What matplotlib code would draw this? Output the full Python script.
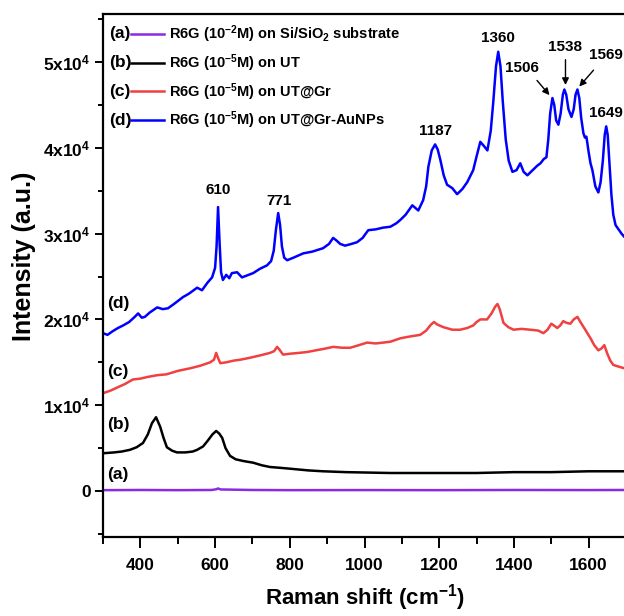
import matplotlib
matplotlib.use("Agg")
import numpy as np
import matplotlib.pyplot as plt
from matplotlib.legend_handler import HandlerBase
from matplotlib.lines import Line2D
from matplotlib.text import Text
from matplotlib.ticker import MultipleLocator, FixedLocator, FixedFormatter

plt.rcParams['font.family'] = ['Liberation Sans', 'DejaVu Sans']
plt.rcParams['font.weight'] = 'bold'
plt.rcParams['mathtext.fontset'] = 'custom'
plt.rcParams['mathtext.rm'] = 'Liberation Sans:bold'
plt.rcParams['mathtext.bf'] = 'Liberation Sans:bold'
plt.rcParams['mathtext.it'] = 'Liberation Sans:bold'
plt.rcParams['mathtext.default'] = 'bf'

# spectrum (d): R6G 1e-5 M on UT@Gr-AuNPs  (intensity in 1e4 counts)
x_d = [300, 312, 325, 340, 354, 370, 385, 394, 404, 412, 425, 445, 460, 474, 490, 514, 530, 552, 565, 580,
       592, 600, 604, 608, 612, 616, 621, 630, 638, 645, 659, 672, 690, 702, 720, 739, 750, 757, 763, 769,
       774, 779, 785, 793, 810, 836, 860, 889, 905, 916, 925, 935, 948, 965, 980, 995, 1010, 1030, 1050, 1069,
       1085, 1096, 1110, 1128, 1144, 1157, 1165, 1171, 1180, 1189, 1196, 1203, 1212, 1221, 1235, 1248, 1262, 1275, 1291, 1300,
       1310, 1320, 1329, 1338, 1345, 1352, 1358, 1364, 1370, 1378, 1386, 1396, 1407, 1417, 1426, 1436, 1450, 1462, 1471, 1480,
       1487, 1492, 1497, 1503, 1508, 1513, 1519, 1525, 1531, 1535, 1540, 1546, 1554, 1560, 1565, 1570, 1575, 1580, 1586, 1590,
       1594, 1600, 1605, 1610, 1618, 1626, 1632, 1638, 1643, 1647, 1651, 1656, 1661, 1666, 1672, 1680, 1688, 1696, 1700]
y_d = [1.84, 1.82, 1.86, 1.90, 1.93, 1.97, 2.03, 2.07, 2.02, 2.03, 2.08, 2.14, 2.12, 2.13, 2.18, 2.26, 2.30, 2.37, 2.34, 2.43,
       2.49, 2.60, 2.85, 3.31, 2.90, 2.55, 2.46, 2.52, 2.48, 2.54, 2.55, 2.49, 2.52, 2.54, 2.59, 2.63, 2.68, 2.80, 3.05, 3.24,
       3.10, 2.85, 2.72, 2.69, 2.72, 2.77, 2.79, 2.83, 2.88, 2.95, 2.92, 2.88, 2.86, 2.88, 2.90, 2.95, 3.04, 3.05, 3.07, 3.08,
       3.12, 3.16, 3.22, 3.33, 3.27, 3.39, 3.55, 3.78, 3.97, 4.04, 3.98, 3.86, 3.68, 3.57, 3.53, 3.46, 3.52, 3.60, 3.74, 3.90,
       4.07, 4.02, 3.97, 4.20, 4.55, 4.95, 5.12, 4.95, 4.55, 4.10, 3.85, 3.72, 3.74, 3.82, 3.72, 3.68, 3.74, 3.79, 3.82, 3.87,
       3.89, 4.10, 4.40, 4.58, 4.50, 4.32, 4.27, 4.40, 4.62, 4.68, 4.62, 4.45, 4.36, 4.45, 4.62, 4.68, 4.58, 4.35, 4.17, 4.12,
       4.13, 3.95, 3.82, 3.74, 3.55, 3.48, 3.60, 3.85, 4.15, 4.25, 4.15, 3.80, 3.45, 3.22, 3.10, 3.05, 3.00, 2.96, 2.95]

# spectrum (c): UT@Gr
x_c = [300, 320, 340, 360, 380, 400, 420, 445, 470, 500, 533, 560, 587, 597, 603, 608, 614, 630, 650, 667,
       690, 720, 747, 758, 766, 772, 782, 800, 825, 846, 870, 895, 916, 940, 962, 985, 1007, 1030, 1050, 1069,
       1096, 1120, 1149, 1165, 1178, 1186, 1195, 1211, 1235, 1256, 1275, 1291, 1300, 1310, 1328, 1340, 1350, 1356, 1362, 1372,
       1385, 1399, 1420, 1444, 1465, 1479, 1490, 1500, 1510, 1516, 1524, 1532, 1541, 1551, 1560, 1570, 1578, 1591, 1605, 1615,
       1626, 1634, 1642, 1650, 1658, 1666, 1680, 1696, 1700]
y_c = [1.14, 1.17, 1.21, 1.25, 1.30, 1.31, 1.33, 1.35, 1.36, 1.40, 1.43, 1.46, 1.50, 1.53, 1.61, 1.55, 1.49, 1.50, 1.52, 1.53,
       1.55, 1.58, 1.61, 1.63, 1.68, 1.65, 1.59, 1.60, 1.61, 1.62, 1.64, 1.66, 1.68, 1.67, 1.67, 1.70, 1.73, 1.72, 1.73, 1.74,
       1.78, 1.80, 1.82, 1.87, 1.94, 1.97, 1.94, 1.91, 1.88, 1.88, 1.90, 1.93, 1.97, 2.00, 2.00, 2.07, 2.15, 2.18, 2.12, 1.96,
       1.91, 1.88, 1.89, 1.88, 1.87, 1.84, 1.88, 1.95, 1.92, 1.90, 1.93, 1.98, 1.96, 1.95, 2.00, 2.03, 1.97, 1.88, 1.78, 1.70,
       1.64, 1.66, 1.70, 1.60, 1.52, 1.47, 1.45, 1.43, 1.42]

# spectrum (b): UT
x_b = [300, 330, 350, 372, 390, 407, 420, 431, 442, 453, 462, 471, 485, 498, 520, 540, 552, 568, 581, 593,
       603, 611, 619, 628, 640, 655, 675, 702, 725, 747, 775, 801, 850, 889, 950, 1069, 1200, 1300, 1400, 1500,
       1600, 1700]
y_b = [0.44, 0.45, 0.46, 0.48, 0.51, 0.56, 0.66, 0.79, 0.86, 0.75, 0.62, 0.51, 0.47, 0.45, 0.45, 0.46, 0.48, 0.52, 0.59, 0.66,
       0.70, 0.67, 0.62, 0.50, 0.41, 0.37, 0.35, 0.33, 0.30, 0.28, 0.27, 0.26, 0.24, 0.23, 0.22, 0.21, 0.21, 0.21, 0.22, 0.22,
       0.23, 0.23]

# spectrum (a): Si/SiO2
x_a = [300, 400, 500, 590, 603, 608, 615, 700, 800, 1000, 1200, 1400, 1600, 1700]
y_a = [0.010, 0.012, 0.010, 0.012, 0.020, 0.030, 0.018, 0.012, 0.010, 0.011, 0.010, 0.012, 0.011, 0.012]

tags = ['(a)', '(b)', '(c)', '(d)']
labels = ['R6G (10$^{-2}$M) on Si/SiO$_2$ substrate',
          'R6G (10$^{-5}$M) on UT',
          'R6G (10$^{-5}$M) on UT@Gr',
          'R6G (10$^{-5}$M) on UT@Gr-AuNPs']
colors = ['#8A2BE2', 'black', '#F04040', '#0000FF']

# curve tags next to the y axis
tag_x = 311
tag_y = [0.19, 0.77, 1.39, 2.19]

# peak labels on (d): (text, x, y) and arrows
peak_text = ['610', '771', '1187', '1360', '1649']
peak_tx = [608, 771, 1189, 1358, 1647]
peak_ty = [3.51, 3.38, 4.20, 5.28, 4.41]
arrow_text = ['1506', '1538', '1569']
arrow_tx = [1422, 1538, 1645]
arrow_ty = [4.93, 5.17, 5.08]
arrow_from = [(1457, 4.81), (1538, 5.06), (1618, 4.93)]
arrow_to = [(1500, 4.59), (1538, 4.70), (1570, 4.69)]

ytick_vals = [0, 1, 2, 3, 4, 5]
ytick_labels = ['0', '1x10$^4$', '2x10$^4$', '3x10$^4$', '4x10$^4$', '5x10$^4$']


class TagLineHandler(HandlerBase):
    # legend handle drawn as "(a) ——"
    def __init__(self, tag):
        super().__init__()
        self.tag = tag

    def create_artists(self, legend, orig_handle, xdescent, ydescent, width, height, fontsize, trans):
        yc = height / 2 - ydescent
        t = Text(-xdescent, yc, self.tag, fontsize=fontsize * 1.2, fontweight='bold',
                 ha='left', va='center', transform=trans)
        ln = Line2D([-xdescent + 0.4 * width, -xdescent + width], [yc, yc],
                    color=orig_handle.get_color(), lw=orig_handle.get_linewidth(), transform=trans)
        return [t, ln]


fig = plt.figure(figsize=(6.24, 6.16), dpi=100)
ax = fig.add_axes([103 / 624, 79 / 616, 523 / 624, 523 / 616])

series = [(x_a, y_a), (x_b, y_b), (x_c, y_c), (x_d, y_d)]
lines = []
for (xs, ys), c, lab in zip(series, colors, labels):
    ln, = ax.plot(xs, np.array(ys) * 1e4, color=c, lw=1.8, label=lab)
    lines.append(ln)

for t, yv in zip(tags, tag_y):
    ax.text(tag_x, yv * 1e4, t, fontsize=12.5, fontweight='bold', ha='left', va='center')

for t, xv, yv in zip(peak_text, peak_tx, peak_ty):
    ax.text(xv, yv * 1e4, t, fontsize=11, fontweight='bold', ha='center', va='center')

for t, xv, yv, p0, p1 in zip(arrow_text, arrow_tx, arrow_ty, arrow_from, arrow_to):
    ax.text(xv, yv * 1e4, t, fontsize=11, fontweight='bold', ha='center', va='center')
    ax.annotate('', xy=(p1[0], p1[1] * 1e4), xytext=(p0[0], p0[1] * 1e4),
                arrowprops=dict(arrowstyle='-|>', color='black', lw=1.0, mutation_scale=10))

ax.set_xlim(300, 1700)
ax.set_ylim(-5360, 55600)

ax.xaxis.set_major_locator(MultipleLocator(200))
ax.xaxis.set_minor_locator(MultipleLocator(100))
ax.yaxis.set_major_locator(FixedLocator([v * 1e4 for v in ytick_vals]))
ax.yaxis.set_major_formatter(FixedFormatter(ytick_labels))
ax.yaxis.set_minor_locator(MultipleLocator(5000))

ax.tick_params(which='major', direction='out', length=6, width=1.4, labelsize=12.5, pad=3)
ax.tick_params(which='minor', direction='out', length=3.5, width=1.4)
ax.tick_params(axis='x', which='major', length=8, pad=7)
ax.tick_params(axis='x', which='minor', length=5)
ax.tick_params(right=False, top=False)
for s in ax.spines.values():
    s.set_linewidth(1.6)
ax.spines['right'].set_visible(False)
for lbl in ax.get_xticklabels() + ax.get_yticklabels():
    lbl.set_fontweight('bold')

ax.set_xlabel('Raman shift (cm$^{-1}$)', fontsize=16, fontweight='bold', labelpad=7)
ax.set_ylabel('Intensity (a.u.)', fontsize=18, fontweight='bold')
ax.yaxis.set_label_coords(-0.128, 0.537)

hmap = {ln: TagLineHandler(t) for ln, t in zip(lines, tags)}
ax.legend(handles=lines, handler_map=hmap, loc='upper left', bbox_to_anchor=(0.006, 0.988),
          frameon=False, prop={'weight': 'bold', 'size': 10.5}, handlelength=3.8,
          handletextpad=0.3, labelspacing=0.5, borderpad=0.2, borderaxespad=0)

fig.savefig('out.png', dpi=100, facecolor='white')
